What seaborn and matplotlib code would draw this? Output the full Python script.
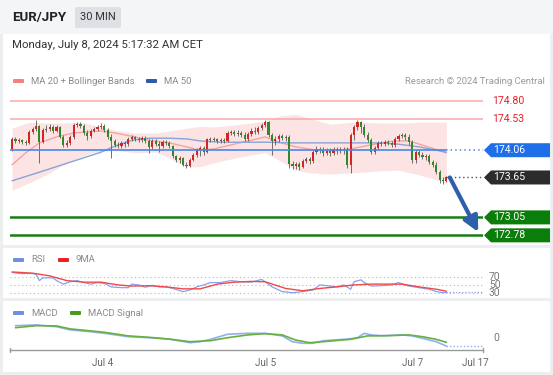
import numpy as np
import matplotlib
matplotlib.use("Agg")
import matplotlib.pyplot as plt
from matplotlib.patches import Rectangle, FancyBboxPatch, Polygon
from matplotlib.transforms import blended_transform_factory
import seaborn as sns

# EUR/JPY 30 min candles (index = candle number)
opens = [174.08, 174.23, 174.20, 174.21, 174.18, 174.17, 174.33, 174.38, 174.42, 174.18,
         174.36, 174.38, 174.41, 174.35, 174.41, 174.26, 174.14, 174.17, 174.26, 174.44,
         174.45, 174.42, 174.32, 174.27, 174.35, 174.38, 174.41, 174.42, 174.36, 174.26,
         174.20, 174.14, 174.12, 174.17, 174.15, 174.23, 174.26, 174.23, 174.21, 174.24,
         174.20, 174.11, 174.20, 174.15, 174.12, 174.18, 174.17, 174.12, 173.97, 173.91,
         173.94, 173.84, 173.82, 173.91, 173.99, 174.06, 174.09, 174.03, 174.23, 174.21,
         174.23, 174.20, 174.21, 174.20, 174.32, 174.33, 174.30, 174.32, 174.29, 174.23,
         174.30, 174.35, 174.33, 174.39, 174.44, 174.48, 174.29, 174.20, 174.23, 174.27,
         174.24, 174.26, 173.85, 173.82, 173.85, 173.81, 173.90, 173.93, 173.90, 174.03,
         174.08, 174.06, 174.02, 174.05, 174.02, 174.08, 174.05, 174.06, 174.08, 173.84,
         174.29, 174.41, 174.48, 174.41, 174.29, 174.21, 174.03, 174.09, 174.17, 174.15,
         174.18, 174.17, 174.14, 174.23, 174.27, 174.29, 174.26, 174.18, 173.91, 174.03,
         173.99, 173.96, 173.97, 173.88, 173.84, 173.73, 173.61, 173.60]
closes = [174.23, 174.20, 174.21, 174.18, 174.17, 174.33, 174.38, 174.42, 174.18, 174.36,
          174.38, 174.41, 174.35, 174.41, 174.26, 174.14, 174.17, 174.26, 174.44, 174.45,
          174.42, 174.32, 174.27, 174.35, 174.38, 174.41, 174.42, 174.36, 174.26, 174.20,
          174.14, 174.12, 174.17, 174.15, 174.23, 174.26, 174.23, 174.21, 174.24, 174.20,
          174.11, 174.20, 174.15, 174.12, 174.18, 174.17, 174.12, 173.97, 173.91, 173.94,
          173.84, 173.82, 173.91, 173.99, 174.06, 174.09, 174.03, 174.23, 174.21, 174.23,
          174.20, 174.21, 174.20, 174.32, 174.33, 174.30, 174.32, 174.29, 174.23, 174.30,
          174.35, 174.33, 174.39, 174.44, 174.48, 174.29, 174.20, 174.23, 174.27, 174.24,
          174.26, 173.85, 173.82, 173.85, 173.81, 173.90, 173.93, 173.90, 174.03, 174.08,
          174.06, 174.02, 174.05, 174.02, 174.08, 174.05, 174.06, 174.08, 173.84, 174.29,
          174.41, 174.48, 174.41, 174.29, 174.21, 174.03, 174.09, 174.17, 174.15, 174.18,
          174.17, 174.14, 174.23, 174.27, 174.29, 174.26, 174.18, 173.91, 174.03, 173.99,
          173.96, 173.97, 173.88, 173.84, 173.73, 173.61, 173.60, 173.65]
highs = [174.26, 174.26, 174.24, 174.23, 174.21, 174.36, 174.41, 174.51, 174.44, 174.39,
         174.44, 174.45, 174.44, 174.44, 174.42, 174.29, 174.21, 174.29, 174.47, 174.48,
         174.48, 174.45, 174.36, 174.38, 174.41, 174.44, 174.47, 174.45, 174.39, 174.30,
         174.23, 174.18, 174.20, 174.20, 174.26, 174.29, 174.27, 174.26, 174.27, 174.27,
         174.23, 174.23, 174.23, 174.20, 174.21, 174.21, 174.20, 174.14, 173.99, 173.97,
         173.96, 173.88, 173.94, 174.02, 174.09, 174.12, 174.12, 174.24, 174.26, 174.26,
         174.24, 174.24, 174.24, 174.35, 174.36, 174.36, 174.36, 174.35, 174.33, 174.33,
         174.39, 174.41, 174.42, 174.47, 174.51, 174.50, 174.32, 174.27, 174.30, 174.30,
         174.29, 174.29, 173.90, 173.88, 173.88, 173.93, 173.96, 173.96, 174.06, 174.12,
         174.11, 174.11, 174.09, 174.09, 174.11, 174.11, 174.11, 174.11, 174.11, 174.32,
         174.44, 174.51, 174.50, 174.45, 174.33, 174.24, 174.12, 174.20, 174.20, 174.21,
         174.21, 174.20, 174.26, 174.30, 174.32, 174.32, 174.30, 174.21, 174.06, 174.06,
         174.03, 174.00, 174.00, 173.91, 173.88, 173.76, 173.66, 173.67]
lows = [174.05, 174.17, 174.17, 174.15, 174.14, 174.15, 174.30, 174.35, 173.87, 174.17,
        174.33, 174.35, 174.32, 174.33, 174.24, 174.11, 174.11, 174.14, 174.23, 174.41,
        174.39, 174.29, 174.21, 174.24, 174.33, 174.35, 174.38, 174.33, 174.23, 173.94,
        174.11, 174.09, 174.09, 174.11, 174.12, 174.20, 174.20, 174.18, 174.18, 174.17,
        174.02, 174.08, 174.12, 174.03, 174.09, 174.14, 174.09, 173.94, 173.88, 173.87,
        173.82, 173.79, 173.81, 173.90, 173.96, 173.97, 173.99, 174.02, 174.18, 174.20,
        174.17, 174.17, 174.17, 174.18, 174.29, 174.27, 174.27, 174.26, 174.20, 174.20,
        174.27, 174.30, 174.30, 174.36, 174.41, 174.26, 173.99, 174.14, 174.18, 174.21,
        174.20, 173.79, 173.78, 173.78, 173.76, 173.79, 173.87, 173.85, 173.87, 174.00,
        174.02, 173.97, 173.99, 173.97, 173.99, 174.00, 174.02, 174.00, 173.79, 173.72,
        174.21, 174.36, 174.32, 174.26, 174.18, 174.00, 174.00, 174.06, 174.12, 174.12,
        174.14, 174.11, 174.11, 174.20, 174.24, 174.21, 174.14, 173.87, 173.87, 173.96,
        173.93, 173.91, 173.85, 173.81, 173.70, 173.57, 173.55, 173.58]

# indicators, read at a few candle indices
ma20_idx = [0, 4, 8, 13, 18, 26, 30, 35, 40, 46, 51, 55, 59, 64, 70, 74, 78, 83, 89, 94,
            99, 103, 108, 112, 116, 121, 127]
ma20 = [173.84, 174.02, 174.17, 174.26, 174.32, 174.35, 174.32, 174.27, 174.21, 174.17,
        174.11, 174.06, 174.08, 174.14, 174.21, 174.26, 174.18, 174.11, 174.06, 174.05,
        174.08, 174.12, 174.17, 174.20, 174.20, 174.12, 174.02]
bb_idx = [0, 5, 10, 15, 20, 24, 30, 36, 42, 46, 51, 55, 59, 65, 70, 74, 78, 83, 87, 93,
          99, 103, 108, 113, 119, 127]
bb_upper = [174.39, 174.48, 174.47, 174.47, 174.48, 174.44, 174.36, 174.32, 174.32, 174.35,
            174.39, 174.42, 174.41, 174.44, 174.47, 174.50, 174.57, 174.60, 174.54, 174.45,
            174.48, 174.48, 174.47, 174.47, 174.48, 174.48]
bb_lower = [173.46, 173.57, 173.69, 173.84, 173.96, 174.03, 174.06, 174.02, 174.03, 173.94,
            173.81, 173.81, 173.87, 173.94, 173.99, 174.02, 173.91, 173.76, 173.72, 173.70,
            173.72, 173.73, 173.75, 173.76, 173.69, 173.57]
ma50_idx = [0, 8, 17, 26, 30, 35, 40, 46, 51, 55, 61, 70, 75, 81, 90, 99, 108, 113, 119, 127]
ma50 = [173.60, 173.73, 173.88, 174.03, 174.12, 174.21, 174.24, 174.24, 174.23, 174.20,
        174.18, 174.18, 174.18, 174.17, 174.17, 174.17, 174.17, 174.15, 174.11, 174.03]

rsi_idx = [0, 2, 6, 7, 8, 9, 12, 13, 15, 17, 19, 21, 23, 25, 27, 29, 32, 34, 35, 37,
           39, 41, 43, 45, 47, 50, 52, 54, 56, 58, 61, 64, 67, 70, 73, 74, 76, 79, 82, 85,
           88, 90, 93, 95, 97, 99, 100, 102, 103, 105, 108, 111, 113, 116, 119, 122, 124, 126, 127]
rsi = [83, 80, 80, 78, 62, 69, 69, 62, 53, 59, 62, 57, 53, 57, 55, 46, 44, 44, 53, 51,
       45, 50, 46, 46, 42, 34, 38, 46, 51, 57, 57, 62, 59, 58, 65, 59, 46, 34, 31, 34,
       38, 51, 48, 46, 51, 40, 59, 64, 57, 48, 49, 51, 57, 48, 44, 40, 34, 31, 32]
rsi_ma_idx = [0, 6, 11, 16, 21, 26, 31, 35, 40, 45, 50, 55, 60, 65, 70, 74, 80, 85, 90, 95,
              100, 105, 110, 114, 119, 124, 127]
rsi_ma = [84, 81, 74, 62, 58, 58, 51, 48, 49, 46, 41, 41, 53, 58, 60, 59, 42, 36, 42, 46,
          51, 53, 53, 53, 46, 40, 35]
rsi_levels = [70, 50, 30]

macd_idx = [1, 7, 13, 17, 23, 27, 34, 40, 46, 52, 55, 58, 63, 69, 74, 79, 82, 85, 88, 91,
            98, 101, 103, 105, 108, 114, 117, 120, 124, 127]
macd = [0.060, 0.064, 0.055, 0.039, 0.030, 0.022, 0.005, 0.000, -0.007, -0.025,
        -0.020, -0.008, 0.017, 0.022, 0.022, 0.009, -0.020, -0.028, -0.028, -0.015,
        -0.007, 0.000, 0.022, 0.014, 0.010, 0.014, 0.009, -0.003, -0.020, -0.042]
signal_idx = [1, 7, 13, 17, 23, 27, 34, 40, 46, 52, 58, 63, 69, 74, 79, 83, 87, 93, 99, 104,
              110, 116, 120, 124, 127]
macd_signal = [0.050, 0.060, 0.059, 0.044, 0.034, 0.027, 0.009, 0.002, -0.007, -0.020,
               -0.015, 0.000, 0.014, 0.020, 0.014, -0.012, -0.025, -0.017, -0.008, 0.009,
               0.010, 0.014, 0.005, -0.008, -0.023]

# key levels
resistances = [174.80, 174.53]
pivot = 174.06
last_price = 173.65
supports = [173.05, 172.78]
target_idx, target_price = 136.3, 172.83

tick_pos = [26.5, 74, 117, 135.5]
tick_labels = ["Jul 4", "Jul 5", "Jul 7", "Jul 17"]

W, H = 553, 375
XLIM = (-0.6, 137.7)
PANEL_X0, PANEL_X1 = 10, 483

sns.set_style("white")
plt.rcParams['font.family'] = ['Roboto', 'DejaVu Sans']

fig = plt.figure(figsize=(W / 100, H / 100), dpi=100, facecolor='#eceef0')

# background layer in pixel coordinates
bg = fig.add_axes([0, 0, 1, 1])
bg.set_xlim(0, W)
bg.set_ylim(H, 0)
bg.axis('off')
bg.add_patch(Rectangle((0, 0), W, 34, color='#f4f5f6', lw=0))
bg.add_patch(Rectangle((3, 34), W - 6, 211, color='white', lw=0))
bg.add_patch(Rectangle((3, 248), W - 6, 50, color='white', lw=0))
bg.add_patch(Rectangle((3, 301), W - 6, 71, color='white', lw=0))

bg.text(12, 18, "EUR/JPY", fontsize=9.5, fontweight='bold', color='#222222', va='center')
bg.add_patch(FancyBboxPatch((75, 7), 46, 21, boxstyle='round,pad=0,rounding_size=2',
                            color='#dde1e6', lw=0))
bg.text(98, 17.5, "30 MIN", fontsize=8, color='#333333', ha='center', va='center')
bg.text(12, 45, "Monday, July 8, 2024 5:17:32 AM CET", fontsize=8.2, color='#333333', va='center')


def legend_item(x, y, color, label):
    bg.add_patch(FancyBboxPatch((x, y - 2), 11, 4, boxstyle='round,pad=0,rounding_size=1',
                                color=color, lw=0))
    bg.text(x + 18, y, label, fontsize=6.8, color='#8a8a8a', va='center')


legend_item(13, 81, '#f47f7f', "MA 20 + Bollinger Bands")
legend_item(146, 81, '#2f5ca8', "MA 50")
bg.text(545, 81, "Research © 2024 Trading Central", fontsize=6.8, color='#9a9a9a',
        ha='right', va='center')
legend_item(13, 260, '#6f8fe0', "RSI")
legend_item(58, 260, '#ee2222', "9MA")
legend_item(13, 313, '#6f8fe0', "MACD")
legend_item(70, 313, '#4c9a1a', "MACD Signal")


def px_axes(y0, y1):
    ax = fig.add_axes([PANEL_X0 / W, 1 - y1 / H, (PANEL_X1 - PANEL_X0) / W, (y1 - y0) / H])
    ax.set_facecolor('none')
    ax.set_xlim(*XLIM)
    for s in ax.spines.values():
        s.set_visible(False)
    ax.set_xticks([])
    ax.set_yticks([])
    ax.set_xlabel('')
    ax.set_ylabel('')
    return ax


# ---- price panel
ax = px_axes(92, 243)
ax.set_ylim(172.665, 174.935)
px_per_price = 151 / (174.935 - 172.665)
fx = 1 / (PANEL_X1 - PANEL_X0)

ax.fill_between(bb_idx, bb_lower, bb_upper, color='#fde4e4', lw=0, zorder=1)
sns.lineplot(x=ma20_idx, y=ma20, ax=ax, color='#f4a3a3', linewidth=1, zorder=2)
sns.lineplot(x=ma50_idx, y=ma50, ax=ax, color='#87a3d8', linewidth=1, zorder=2)

idx = np.arange(len(closes))
o = np.array(opens)
c = np.array(closes)
up = c >= o
ax.vlines(idx, lows, highs, color='#5a5a5a', lw=0.6, zorder=3)
body_low = np.minimum(o, c)
body_h = np.maximum(np.abs(c - o), 0.008)
ax.bar(idx[up], body_h[up], bottom=body_low[up], width=0.62, color='#d42424', lw=0, zorder=4)
ax.bar(idx[~up], body_h[~up], bottom=body_low[~up], width=0.62, color='#2e8a26', lw=0, zorder=4)

for r in resistances:
    ax.axhline(r, color='#f9a9a9', lw=1.1, zorder=2)
for s in supports:
    ax.axhline(s, color='#177d17', lw=1.8, zorder=2)
ax.plot([XLIM[0], idx[-1]], [pivot, pivot], color='#4a86ea', lw=1.2, zorder=5)
ax.plot([idx[-1], XLIM[1]], [pivot, pivot], color='#4a86ea', lw=1.1, ls=(0, (1, 2)), zorder=5)
ax.plot([idx[-1], XLIM[1]], [last_price, last_price], color='#555555', lw=1, ls=(0, (1, 2)), zorder=5)

ax.annotate('', xy=(target_idx, target_price), xytext=(idx[-1] + 1, last_price),
            arrowprops=dict(arrowstyle='-|>,head_length=0.9,head_width=0.45', lw=3,
                            color='#2d5faa', shrinkA=0, shrinkB=0), zorder=6)

tr = blended_transform_factory(ax.transAxes, ax.transData)


def price_tag(price, color):
    h = 7 / px_per_price
    x0 = 1 + 1 * fx
    x1 = 1 + 8 * fx
    x2 = 1 + 67 * fx
    poly = Polygon([(x0, price), (x1, price + h), (x2, price + h), (x2, price - h), (x1, price - h)],
                   closed=True, color=color, transform=tr, clip_on=False, lw=0, zorder=7)
    ax.add_patch(poly)
    ax.text(1 + 10 * fx, price, f"{price:.2f}", transform=tr, color='white', fontsize=7.6,
            va='center', ha='left', clip_on=False, zorder=8)


for r in resistances:
    ax.text(1 + 9 * fx, r, f"{r:.2f}", transform=tr, color='#e8202a', fontsize=7.6,
            va='center', ha='left', clip_on=False)
price_tag(pivot, '#1f6fe8')
price_tag(last_price, '#2c2c2c')
for s in supports:
    price_tag(s, '#0a7d0a')

# ---- RSI panel
ax2 = px_axes(266, 297)
ax2.set_ylim(20.2, 99.2)
tr2 = blended_transform_factory(ax2.transAxes, ax2.transData)
for lv in rsi_levels:
    ax2.axhline(lv, color='#b8b8b8', lw=0.8, ls=(0, (1, 2.5)), zorder=1)
    ax2.text(1 + 6 * fx, lv, str(lv), transform=tr2, fontsize=7.4, color='#777777',
             va='center', ha='left', clip_on=False)
sns.lineplot(x=rsi_idx, y=rsi, ax=ax2, color='#86a2ec', linewidth=0.9, zorder=2)
sns.lineplot(x=rsi_ma_idx, y=rsi_ma, ax=ax2, color='#f04848', linewidth=1, zorder=3)
ax2.plot([rsi_idx[-1], XLIM[1]], [rsi[-1], rsi[-1]], color='#86a2ec', lw=0.9, ls=(0, (1, 1.5)))
ax2.set_xlabel('')
ax2.set_ylabel('')

# ---- MACD panel
ax3 = px_axes(320, 350)
ax3.set_ylim(-0.0615, 0.0885)
sns.lineplot(x=macd_idx, y=macd, ax=ax3, color='#95aef0', linewidth=1.2, zorder=2)
sns.lineplot(x=signal_idx, y=macd_signal, ax=ax3, color='#66b040', linewidth=1.2, zorder=3)
ax3.plot([macd_idx[-1], XLIM[1]], [macd[-1], macd[-1]], color='#95aef0', lw=1, ls=(0, (1, 1.5)))
ax3.text(1 + 10 * fx, 0, "0", transform=blended_transform_factory(ax3.transAxes, ax3.transData),
         fontsize=7.6, color='#777777', va='center', ha='left', clip_on=False)
ax3.spines['bottom'].set_visible(True)
ax3.spines['bottom'].set_color('#9a9a9a')
ax3.spines['bottom'].set_linewidth(1)
for xe in (0, 1):
    ax3.plot([xe, xe], [-0.08, 0.08], transform=ax3.transAxes, color='#9a9a9a', lw=1, clip_on=False)
ax3.set_xticks(tick_pos)
ax3.set_xticklabels(tick_labels, fontsize=7.1, color='#666666')
ax3.tick_params(axis='x', length=0, pad=6)
ax3.set_xlabel('')
ax3.set_ylabel('')

fig.savefig("out.png", dpi=100, facecolor=fig.get_facecolor())
